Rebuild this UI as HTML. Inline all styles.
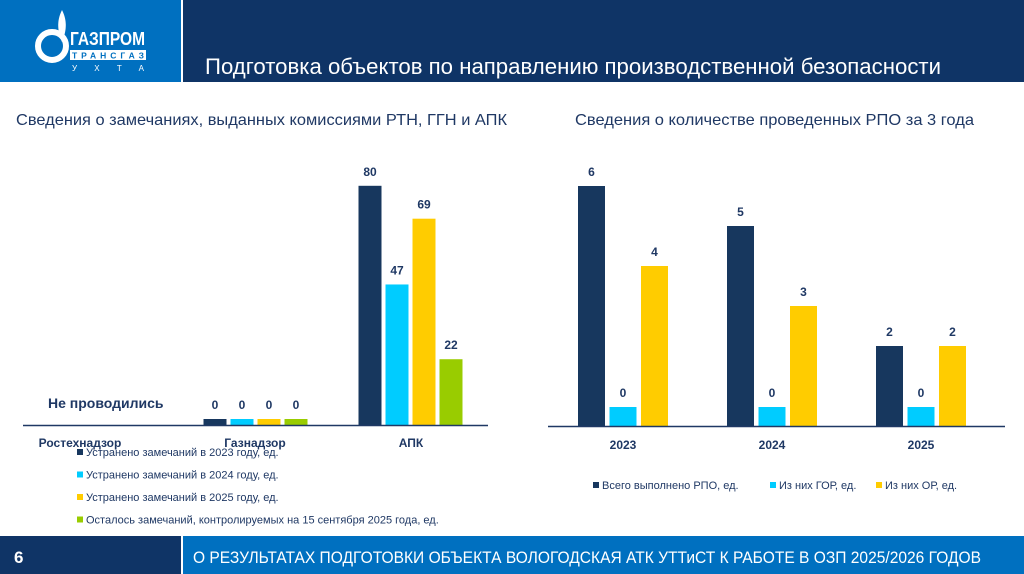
<!DOCTYPE html>
<html><head><meta charset="utf-8"><style>
html,body{margin:0;padding:0;width:1024px;height:574px;overflow:hidden;background:#fff;font-family:"Liberation Sans",sans-serif}
</style></head><body>
<svg id="s" width="1024" height="574" xmlns="http://www.w3.org/2000/svg" font-family="Liberation Sans, sans-serif">
<rect x="0" y="0" width="181" height="82" fill="#0070c0"/>
<rect x="183" y="0" width="841" height="82" fill="#0f3466"/>
<g fill="#fff">
<circle cx="52" cy="46" r="14" fill="none" stroke="#fff" stroke-width="6"/>
<path d="M62 10 C56 22 58 32 62 42 C66 32 68 22 62 10Z"/>
<text x="70" y="45" font-size="18" font-weight="bold" textLength="75" lengthAdjust="spacingAndGlyphs">ГАЗПРОМ</text>
<rect x="70" y="50" width="76" height="10"/>
<text x="72" y="58.5" font-size="8.5" font-weight="bold" fill="#0070c0" textLength="72" lengthAdjust="spacing">ТРАНСГАЗ</text>
<text x="72" y="71" font-size="8" textLength="72" lengthAdjust="spacing">УХТА</text>
</g>
<text x="205" y="74" font-size="22" fill="#fff" textLength="736" lengthAdjust="spacingAndGlyphs">Подготовка объектов по направлению производственной безопасности</text>
<text x="16" y="125" font-size="16" fill="#1f3864" textLength="491" lengthAdjust="spacingAndGlyphs">Сведения о замечаниях, выданных комиссиями РТН, ГГН и АПК</text>
<text x="575" y="125" font-size="16" fill="#1f3864" textLength="399" lengthAdjust="spacingAndGlyphs">Сведения о количестве проведенных РПО за 3 года</text>
<g id="left"></g>
<g id="right"></g>
<rect x="0" y="536" width="181" height="38" fill="#0f3466"/>
<rect x="183" y="536" width="841" height="38" fill="#0070c0"/>
<text x="14" y="563" font-size="17" font-weight="bold" fill="#fff">6</text>
<text x="193" y="563" font-size="17" fill="#fff" textLength="788" lengthAdjust="spacingAndGlyphs">О РЕЗУЛЬТАТАХ ПОДГОТОВКИ ОБЪЕКТА ВОЛОГОДСКАЯ АТК УТТиСТ К РАБОТЕ В ОЗП 2025/2026 ГОДОВ</text>
</svg>
<script>
// Left chart data
const leftCategories = ["Ростехнадзор","Газнадзор","АПК"];
const left2023 = [null,0,80];
const left2024 = [null,0,47];
const left2025 = [null,0,69];
const leftRemaining = [null,0,22];
const leftSeriesNames = ["Устранено замечаний в 2023 году, ед.","Устранено замечаний в 2024 году, ед.","Устранено замечаний в 2025 году, ед.","Осталось замечаний, контролируемых на 15 сентября 2025 года, ед."];
// Right chart data
const rightCategories = ["2023","2024","2025"];
const rightTotal = [6,5,2];
const rightGor = [0,0,0];
const rightOr = [4,3,2];
const rightSeriesNames = ["Всего выполнено РПО, ед.","Из них ГОР, ед.","Из них ОР, ед."];

const NS="http://www.w3.org/2000/svg";
const colors=["#17375e","#00ccff","#ffcc00","#99cc00"];
function mk(tag,attrs,parent,txt){const e=document.createElementNS(NS,tag);for(const k in attrs)e.setAttribute(k,attrs[k]);if(txt!=null)e.textContent=txt;parent.appendChild(e);return e;}

// Left chart
(function(){
const g=document.getElementById('left');
const base=425, x0=23, x1=488;
const y=v=>base-v*2.99;
const groupW=(x1-x0)/3;
const cx=i=>x0+groupW*(i+0.5);
const series=[left2023,left2024,left2025,leftRemaining];
const bw=23, gap=4;
series.forEach((arr,s)=>{arr.forEach((v,i)=>{if(v==null)return;
const x=cx(i)-2*(bw+gap)+gap/2+s*(bw+gap);
const h=Math.max(base-y(v),6);
const r=mk('rect',{x:x,y:base-h,width:bw,height:h,fill:colors[s]},g);


const t=mk('text',{x:x+bw/2,y:base-h-10,'font-size':12,'font-weight':'bold','text-anchor':'middle',fill:'#1f3864'},g,String(v));


});});
const ax=mk('line',{x1:x0,x2:x1,y1:base+0.5,y2:base+0.5,stroke:'#1f3864','stroke-width':1.5},g);


const lx=[80,255,411];
leftCategories.forEach((c,i)=>{const t=mk('text',{x:lx[i],y:447,'font-size':12,'font-weight':'bold','text-anchor':'middle',fill:'#1f3864'},g,c);

});
const np=mk('text',{x:48,y:408,'font-size':14,'font-weight':'bold',fill:'#1f3864'},g,'Не проводились');


leftSeriesNames.forEach((n,s)=>{const yy=452+s*22.5;
const r=mk('rect',{x:77,y:yy-3,width:6,height:6,fill:colors[s]},g);


const t=mk('text',{x:86,y:yy+4,'font-size':11,fill:'#1f3864'},g,n);

});
})();

// Right chart
(function(){
const g=document.getElementById('right');
const base=426, x0=548, x1=1005;
const y=v=>base-v*40;
const cx=i=>623+i*149;
const series=[rightTotal,rightGor,rightOr];
const bw=27, gap=4.5;
series.forEach((arr,s)=>{arr.forEach((v,i)=>{
const x=cx(i)-1.5*bw-gap+s*(bw+gap);
const h=Math.max(base-y(v),19);
const r=mk('rect',{x:x,y:base-h,width:bw,height:h,fill:colors[s]},g);


const t=mk('text',{x:x+bw/2,y:base-h-10,'font-size':12,'font-weight':'bold','text-anchor':'middle',fill:'#1f3864'},g,String(v));


});});
const ax=mk('line',{x1:x0,x2:x1,y1:base+0.5,y2:base+0.5,stroke:'#1f3864','stroke-width':1.5},g);


rightCategories.forEach((c,i)=>{const t=mk('text',{x:cx(i),y:449,'font-size':12,'font-weight':'bold','text-anchor':'middle',fill:'#1f3864'},g,c);

});
const lxs=[593,770,876];
rightSeriesNames.forEach((n,s)=>{
const r=mk('rect',{x:lxs[s],y:482,width:6,height:6,fill:colors[s]},g);


const t=mk('text',{x:lxs[s]+9,y:489,'font-size':11,fill:'#1f3864'},g,n);

});
})();
</script>
</body></html>
